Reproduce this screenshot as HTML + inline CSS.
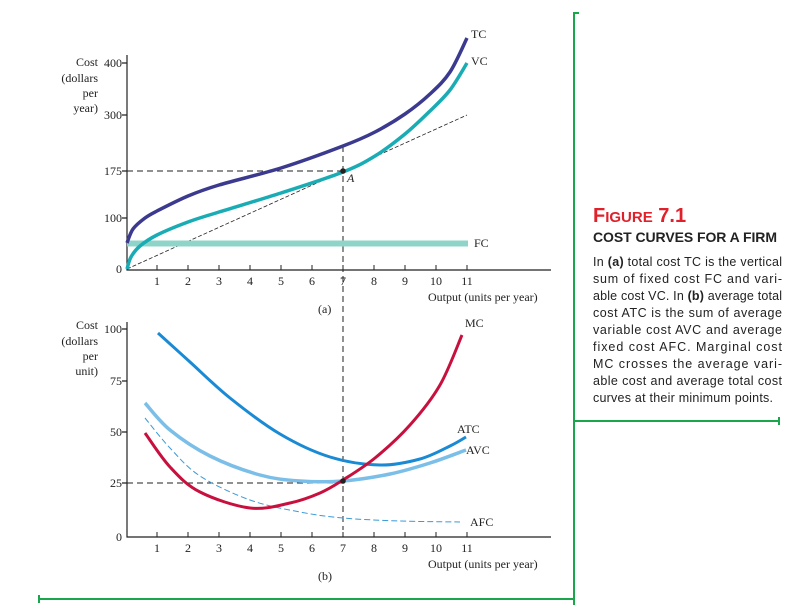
<!DOCTYPE html>
<html><head><meta charset="utf-8"><style>
body{margin:0;background:#fff;width:793px;height:605px;overflow:hidden}
svg{display:block}
text{font-family:"Liberation Serif",serif;font-size:12px;fill:#222}
.s{font-family:"Liberation Sans",sans-serif}
</style></head><body>
<svg id="g" width="793" height="605" viewBox="0 0 793 605">
<g stroke="#1aa64a" stroke-width="2" fill="none">
<path d="M574 12V605M574 13H579M574 421H779M779 417V425M38 599H574M39 595V603"/>
</g>
<g stroke="#222" stroke-width="1.2" fill="none">
<path d="M127 55V270H551"/>
<path d="M122 63H127M122 115H127M122 171H127M122 218H127"/>
</g>
<g id="tx"></g>
<text x="98" y="66" text-anchor="end">Cost</text>
<text x="98" y="82" text-anchor="end">(dollars</text>
<text x="98" y="97" text-anchor="end">per</text>
<text x="98" y="112" text-anchor="end">year)</text>
<text x="122" y="67" text-anchor="end">400</text>
<text x="122" y="119" text-anchor="end">300</text>
<text x="122" y="175" text-anchor="end">175</text>
<text x="122" y="222" text-anchor="end">100</text>
<text x="122" y="273" text-anchor="end">0</text>
<text x="428" y="301">Output (units per year)</text>
<text x="318" y="313">(a)</text>
<g stroke="#222" stroke-width="1" fill="none" stroke-dasharray="6,4">
<path d="M127 171H343M343 146V530"/>
<path d="M127 269L467 115" stroke-dasharray="4,2" stroke-width="0.8"/>
</g>
<path d="M127 243.5H468" stroke="#8fd4c8" stroke-width="6"/>
<path id="tc" stroke="#3b3a8f" stroke-width="3.5" fill="none"/>
<path id="vc" stroke="#1aacb4" stroke-width="3.5" fill="none"/>
<circle cx="343" cy="171" r="2.8" fill="#222"/>
<text x="347" y="182" font-style="italic">A</text>
<text x="471" y="38">TC</text>
<text x="471" y="65">VC</text>
<text x="474" y="247">FC</text>
<g stroke="#222" stroke-width="1.2" fill="none">
<path d="M127 322V537H551"/>
<path d="M122 329H127M122 381H127M122 432H127M122 483H127"/>
</g>
<g id="bx"></g>
<text x="98" y="329" text-anchor="end">Cost</text>
<text x="98" y="345" text-anchor="end">(dollars</text>
<text x="98" y="360" text-anchor="end">per</text>
<text x="98" y="375" text-anchor="end">unit)</text>
<text x="122" y="333" text-anchor="end">100</text>
<text x="122" y="385" text-anchor="end">75</text>
<text x="122" y="436" text-anchor="end">50</text>
<text x="122" y="487" text-anchor="end">25</text>
<text x="122" y="541" text-anchor="end">0</text>
<text x="428" y="568">Output (units per year)</text>
<text x="318" y="580">(b)</text>
<path d="M127 483H343" stroke="#222" stroke-dasharray="6,4" fill="none"/>
<path id="afc" stroke="#3a9ad8" stroke-width="1" stroke-dasharray="6,3" fill="none"/>
<path id="avc" stroke="#7bbfe8" stroke-width="3.5" fill="none"/>
<path id="atc" stroke="#1a8ad4" stroke-width="3" fill="none"/>
<path id="mc" stroke="#c8103e" stroke-width="3" fill="none"/>
<circle cx="343" cy="481" r="2.8" fill="#222"/>
<text x="465" y="327">MC</text>
<text x="457" y="433">ATC</text>
<text x="466" y="454">AVC</text>
<text x="470" y="526">AFC</text>
<text class="s" x="593" y="222" style="font-size:20px;fill:#e0202a;font-weight:bold">F<tspan style="font-size:15px">IGURE</tspan> 7.1</text>
<text class="s" x="593" y="242" style="font-size:14px;font-weight:bold;fill:#222" textLength="184">COST CURVES FOR A FIRM</text>
<text class="s" x="593" y="266" style="font-size:12.5px" textLength="189">In <tspan font-weight="bold">(a)</tspan> total cost TC is the vertical</text>
<text class="s" x="593" y="283" style="font-size:12.5px" textLength="189">sum of fixed cost FC and vari-</text>
<text class="s" x="593" y="300" style="font-size:12.5px" textLength="189">able cost VC. In <tspan font-weight="bold">(b)</tspan> average total</text>
<text class="s" x="593" y="317" style="font-size:12.5px" textLength="189">cost ATC is the sum of average</text>
<text class="s" x="593" y="334" style="font-size:12.5px" textLength="189">variable cost AVC and average</text>
<text class="s" x="593" y="351" style="font-size:12.5px" textLength="189">fixed cost AFC. Marginal cost</text>
<text class="s" x="593" y="368" style="font-size:12.5px" textLength="189">MC crosses the average vari-</text>
<text class="s" x="593" y="385" style="font-size:12.5px" textLength="189">able cost and average total cost</text>
<text class="s" x="593" y="402" style="font-size:12.5px" textLength="180">curves at their minimum points.</text>
</svg>
<script>
function cr(p){var d="M"+p[0][0]+" "+p[0][1];for(var i=0;i<p.length-1;i++){var a=p[i-1]||p[i],b=p[i],c=p[i+1],e=p[i+2]||c;d+="C"+(b[0]+(c[0]-a[0])/6)+" "+(b[1]+(c[1]-a[1])/6)+" "+(c[0]-(e[0]-b[0])/6)+" "+(c[1]-(e[1]-b[1])/6)+" "+c[0]+" "+c[1];}return d;}
function s(id,p){document.getElementById(id).setAttribute("d",cr(p));}
s("tc",[[127,243],[133,229],[145,218],[157,211],[188,196],[219,185],[281,168],[343,146],[375,132],[405,114],[430,94],[450,72],[467,38]]);
s("vc",[[127,269],[131,257],[140,246],[157,235],[188,222],[219,212],[281,193],[343,172],[375,156],[405,134],[430,111],[450,90],[467,63]]);
s("mc",[[145,433],[170,467],[200,492],[250,508],[290,503],[320,493],[343,480],[375,458],[410,425],[440,385],[462,335]]);
s("atc",[[158,333],[190,362],[230,398],[280,434],[330,457],[380,465],[420,459],[450,446],[466,437]]);
s("avc",[[145,403],[170,430],[210,456],[260,475],[300,481],[343,481],[390,474],[430,463],[466,450]]);
s("afc",[[145,418],[170,448],[200,476],[250,500],[300,512],[343,518],[400,521],[460,522]]);
var h="";for(var i=1;i<=11;i++){var x=126+31*i;h+='<path d="M'+x+' 265V270" stroke="#222"/><text x="'+x+'" y="285" text-anchor="middle">'+i+'</text>';}
document.getElementById("tx").innerHTML=h;
document.getElementById("bx").innerHTML=h.replace(/265V270/g,"532V537").replace(/y="285"/g,'y="552"');
</script>
</body></html>
